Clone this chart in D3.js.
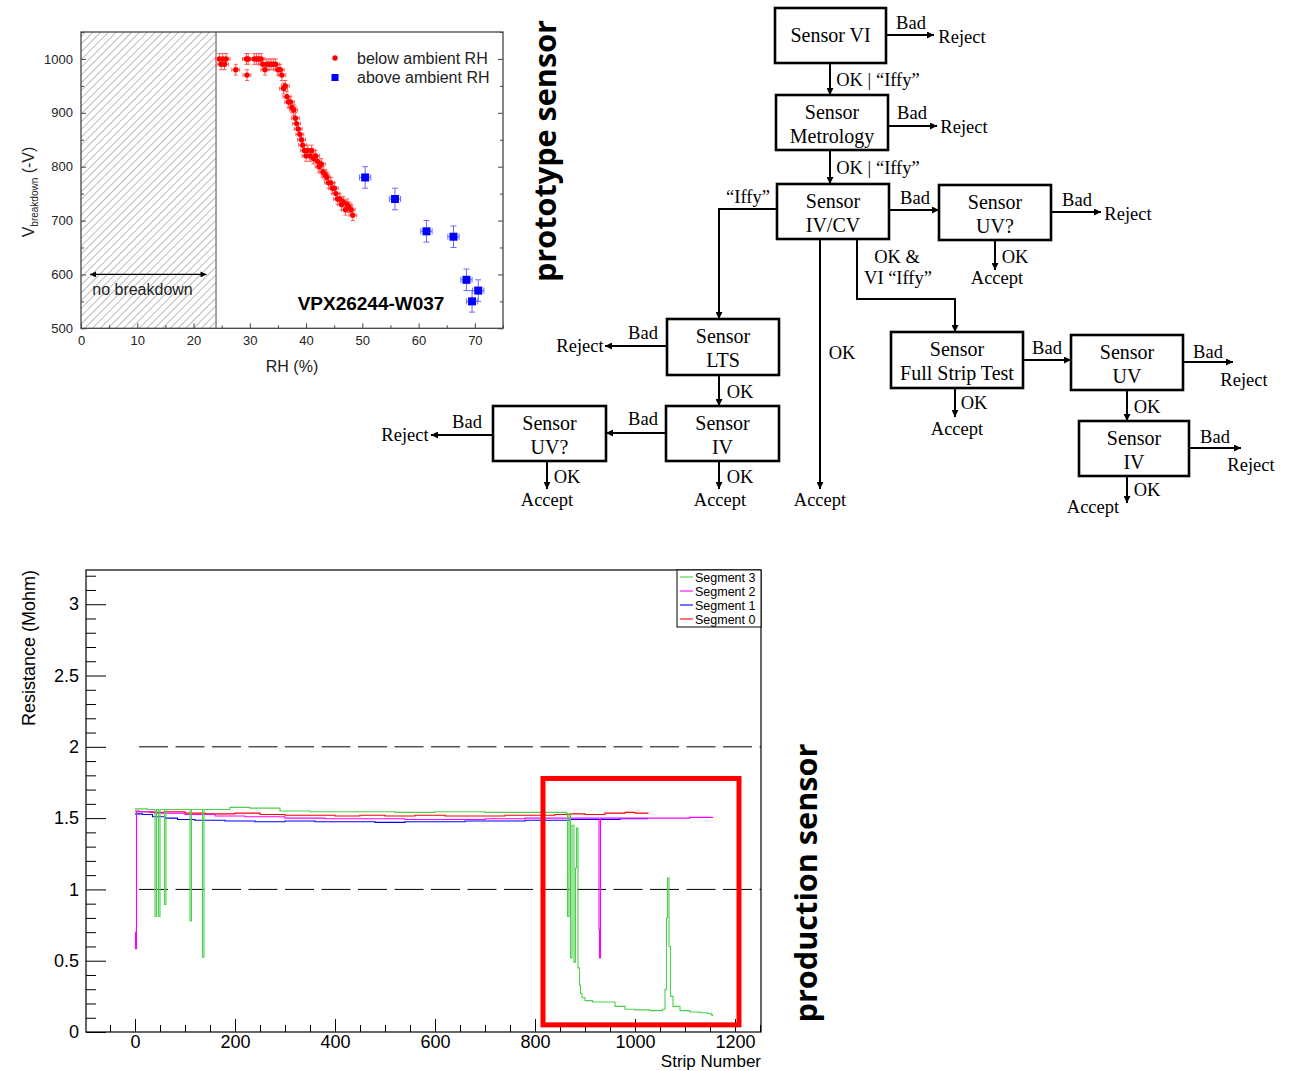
<!DOCTYPE html>
<html><head><meta charset="utf-8">
<script src="https://cdn.jsdelivr.net/npm/d3@7"></script>
<style>body{margin:0;background:#fff}svg{display:block}</style>
</head><body>
<svg id="c" width="1291" height="1071"></svg>
<script>
// ---------------- DATA ----------------
// Top-left: breakdown voltage vs relative humidity
const redRH = [24.6,24.9,25.2,25.5,25.8,27.5,29.4,29.5,29.7,30.8,31.2,31.6,32.0,32.3,32.7,33.0,33.4,33.8,34.2,34.6,35.0,35.4,35.7,36.0,36.3,36.6,36.9,37.2,37.5,37.8,38.1,38.3,38.6,38.9,39.2,39.4,39.7,40.0,40.3,40.7,41.0,41.3,41.7,42.0,42.3,42.7,43.0,43.4,43.7,44.0,44.4,44.7,45.0,45.3,45.6,46.0,46.3,46.6,47.0,47.3,47.6,48.0,48.3];
const redV  = [1000,990,1000,990,1000,980,1000,970,1000,1000,1000,1000,1000,990,980,990,990,990,990,990,980,980,970,945,950,930,920,920,910,905,890,880,870,860,850,840,830,820,830,820,830,815,820,810,800,805,790,785,780,770,770,760,760,750,740,740,730,735,720,730,725,720,710];
const blueRH = [50.5,55.8,61.4,66.2,68.5,69.5,70.6];
const blueV  = [780,740,680,670,590,550,570];
const redErrV = 10, redErrRH = 0.7, blueErrV = 20, blueErrRH = 1.0;
const rhTicks = [0,10,20,30,40,50,60,70];
const rhMinor = [5,15,25,35,45,55,65,75];
const vTicks = [500,600,700,800,900,1000];
const vMinor = [550,650,750,850,950,1050];
const noBreakdownRH = 24;
const sensorName = "VPX26244-W037";
const legend1 = ["below ambient RH","above ambient RH"];

// Bottom: resistance per strip
const seg0Strip = [0,8,30,60,100,140,200,250,300,350,400,450,500,560,620,680,740,800,840,870,900,940,980,1000,1026];
const seg0Val   = [1.55,1.545,1.54,1.545,1.535,1.53,1.535,1.525,1.52,1.52,1.515,1.52,1.515,1.52,1.515,1.515,1.52,1.52,1.525,1.53,1.525,1.535,1.54,1.535,1.54];
const seg1Strip = [0,15,35,60,85,120,180,240,300,360,420,480,540,600,660,720,780,830,870,920,970,1026];
const seg1Val   = [1.53,1.525,1.51,1.5,1.49,1.485,1.48,1.475,1.48,1.475,1.475,1.47,1.475,1.475,1.48,1.48,1.485,1.485,1.49,1.49,1.495,1.495];
const seg2Strip = [0,1,3,40,100,160,220,300,380,460,540,620,700,780,860,928,929,931,1000,1060,1110,1155];
const seg2Val   = [0.70,0.585,1.545,1.535,1.525,1.515,1.51,1.50,1.495,1.495,1.49,1.49,1.495,1.50,1.50,0.72,0.52,1.50,1.50,1.50,1.505,1.50];
const seg3Strip = [0,25,40,43,47,50,59,62,110,113,135,138,190,230,290,350,430,520,600,700,800,862,865,868,871,874,878,881,883,886,889,891,894,900,915,930,960,980,1000,1030,1055,1060,1063,1065,1068,1071,1076,1090,1110,1130,1145,1152,1155];
const seg3Val   = [1.565,1.56,0.81,1.56,0.81,1.56,0.895,1.56,0.78,1.56,0.525,1.56,1.575,1.57,1.55,1.545,1.545,1.54,1.545,1.54,1.54,1.535,0.81,1.53,0.52,1.45,0.49,1.15,1.43,0.45,0.33,0.27,0.24,0.22,0.21,0.21,0.18,0.16,0.155,0.15,0.16,0.3,0.8,1.08,0.6,0.25,0.18,0.15,0.14,0.135,0.13,0.12,0.11];
const segNames = ["Segment 3","Segment 2","Segment 1","Segment 0"];
const stripMajor = [0,200,400,600,800,1000,1200];
const stripMinor = [-50,50,100,150,250,300,350,450,500,550,650,700,750,850,900,950,1050,1100,1150,1250];
const resMajor = [0,0.5,1,1.5,2,2.5,3];
const resMinor = [0.1,0.2,0.3,0.4,0.6,0.7,0.8,0.9,1.1,1.2,1.3,1.4,1.6,1.7,1.8,1.9,2.1,2.2,2.3,2.4,2.6,2.7,2.8,2.9,3.1,3.2];
const refLines = [1,2];
const boxStrip = [816,1208];
const boxRes = [0.05,1.778];

// Flowchart content
const fcBoxes = [
  {id:"vi",   lines:["Sensor VI"]},
  {id:"met",  lines:["Sensor","Metrology"]},
  {id:"ivcv", lines:["Sensor","IV/CV"]},
  {id:"uvq1", lines:["Sensor","UV?"]},
  {id:"lts",  lines:["Sensor","LTS"]},
  {id:"iv1",  lines:["Sensor","IV"]},
  {id:"uvq2", lines:["Sensor","UV?"]},
  {id:"fst",  lines:["Sensor","Full Strip Test"]},
  {id:"uv",   lines:["Sensor","UV"]},
  {id:"iv2",  lines:["Sensor","IV"]}
];

// ---------------- LAYOUT ----------------
const boxLayout = {
  vi:[775,8,886,63], met:[776,95,888,150], ivcv:[777,184,889,239], uvq1:[939,185,1051,240],
  lts:[667,319,779,375], iv1:[666,406,779,461], uvq2:[493,406,606,461],
  fst:[891,332,1023,388], uv:[1071,335,1183,390], iv2:[1079,421,1189,476]
};
const edgeLayout = [
  [[886,35],[934,35]], [[888,126],[937,126]], [[830,63],[830,95]], [[830,150],[830,184]],
  [[889,210],[939,210]], [[1051,212],[1101,212]], [[995,240],[995,270]],
  [[777,209],[719,209],[719,319]], [[820,239],[820,489]],
  [[857,239],[857,299],[955,299],[955,332]],
  [[667,346],[605,346]], [[719,375],[719,406]], [[666,433],[606,433]],
  [[493,435],[431,435]], [[547,461],[547,489]], [[719,461],[719,489]],
  [[1023,360],[1071,360]], [[1183,362],[1233,362]], [[955,388],[955,417]],
  [[1127,390],[1127,421]], [[1189,448],[1241,448]], [[1127,476],[1127,503]]
];
const labelLayout = [
  ["Bad",911,23],["Reject",962,37],["OK | \u201CIffy\u201D",878,80],
  ["Bad",912,113],["Reject",964,127],["OK | \u201CIffy\u201D",878,168],
  ["\u201CIffy\u201D",748,197],["Bad",915,198],["Bad",1077,200],["Reject",1128,214],
  ["OK",1015,257],["Accept",997,278],["OK &",897,257],["VI \u201CIffy\u201D",898,278],
  ["OK",842,353],["Bad",643,333],["Reject",580,346],["OK",740,392],
  ["Bad",643,419],["Bad",467,422],["Reject",405,435],["OK",567,477],["Accept",547,500],
  ["OK",740,477],["Accept",720,500],["Accept",820,500],
  ["Bad",1047,348],["Bad",1208,352],["Reject",1244,380],["OK",974,403],["Accept",957,429],
  ["OK",1147,407],["Bad",1215,437],["Reject",1251,465],["OK",1147,490],["Accept",1093,507]
];

// ---------------- DRAW ----------------
const svg = d3.select("#c");
const defs = svg.append("defs");
const hp = defs.append("pattern").attr("id","hatch").attr("patternUnits","userSpaceOnUse")
  .attr("width",5.5).attr("height",5.5).attr("patternTransform","rotate(45)");
hp.append("line").attr("x1",0).attr("y1",0).attr("x2",0).attr("y2",5.5).attr("stroke","#777").attr("stroke-width",1);
defs.append("marker").attr("id","ah").attr("markerUnits","userSpaceOnUse")
  .attr("markerWidth",8).attr("markerHeight",7).attr("refX",7).attr("refY",3.5).attr("orient","auto")
  .append("path").attr("d","M0,0L7,3.5L0,7z").attr("fill","#000");
defs.append("marker").attr("id","ah2").attr("markerUnits","userSpaceOnUse")
  .attr("markerWidth",7).attr("markerHeight",6).attr("refX",6).attr("refY",3).attr("orient","auto-start-reverse")
  .append("path").attr("d","M0,0L6,3L0,6z").attr("fill","#000");

// ===== Chart 1 =====
const x1 = d3.scaleLinear().domain([0,75]).range([81,503]);
const y1 = d3.scaleLinear().domain([500,1050]).range([328.3,32]);
const g1 = svg.append("g").attr("font-family","'Liberation Sans', Arial, sans-serif");
g1.append("rect").attr("x",x1(0)).attr("y",y1(1050)).attr("width",x1(noBreakdownRH)-x1(0))
  .attr("height",y1(500)-y1(1050)).attr("fill","url(#hatch)");
g1.append("line").attr("x1",x1(noBreakdownRH)).attr("x2",x1(noBreakdownRH)).attr("y1",y1(1050)).attr("y2",y1(500))
  .attr("stroke","#888").attr("stroke-width",1.5);
g1.append("line").attr("x1",x1(1.6)).attr("x2",x1(22.3)).attr("y1",y1(600)).attr("y2",y1(600))
  .attr("stroke","#000").attr("stroke-width",1.2).attr("marker-start","url(#ah2)").attr("marker-end","url(#ah2)");
g1.append("text").attr("x",x1(2)).attr("y",295).attr("font-size",16).attr("fill","#222").text("no breakdown");
g1.append("text").attr("x",x1(38.5)).attr("y",310).attr("font-size",19).attr("font-weight","bold").text(sensorName);

// axes
function ax(gen, tr){ const a = g1.append("g").attr("transform",tr).call(gen); a.select(".domain").remove(); a.selectAll("line").attr("stroke","#444"); a.selectAll("text").attr("font-size",13).attr("fill","#222").attr("font-family","'Liberation Sans', Arial, sans-serif"); return a;}
ax(d3.axisBottom(x1).tickValues(rhTicks).tickSize(-5).tickPadding(7).tickFormat(d3.format("d")), `translate(0,${y1(500)})`);
ax(d3.axisBottom(x1).tickValues(rhMinor).tickSize(-3).tickFormat(""), `translate(0,${y1(500)})`);
ax(d3.axisLeft(y1).tickValues(vTicks).tickSize(-5).tickPadding(8).tickFormat(d3.format("d")), `translate(${x1(0)},0)`);
ax(d3.axisLeft(y1).tickValues(vMinor).tickSize(-3).tickFormat(""), `translate(${x1(0)},0)`);
ax(d3.axisRight(y1).tickValues(vTicks).tickSize(-5).tickFormat(""), `translate(${x1(75)},0)`);
ax(d3.axisRight(y1).tickValues(vMinor).tickSize(-3).tickFormat(""), `translate(${x1(75)},0)`);
g1.append("rect").attr("x",x1(0)).attr("y",y1(1050)).attr("width",x1(75)-x1(0)).attr("height",y1(500)-y1(1050))
  .attr("fill","none").attr("stroke","#444").attr("stroke-width",1.3);

// error bars + points
const redPts = redRH.map((r,i)=>({x:r,y:redV[i]}));
const bluePts = blueRH.map((r,i)=>({x:r,y:blueV[i]}));
function errs(pts, ex, ey, col, cap){
  const g = g1.append("g").attr("stroke",col).attr("stroke-width",1);
  pts.forEach(p=>{
    g.append("line").attr("x1",x1(p.x)).attr("x2",x1(p.x)).attr("y1",y1(p.y-ey)).attr("y2",y1(p.y+ey));
    g.append("line").attr("x1",x1(p.x-ex)).attr("x2",x1(p.x+ex)).attr("y1",y1(p.y)).attr("y2",y1(p.y));
    [p.y-ey,p.y+ey].forEach(v=>g.append("line").attr("x1",x1(p.x)-cap).attr("x2",x1(p.x)+cap).attr("y1",y1(v)).attr("y2",y1(v)));
    [p.x-ex,p.x+ex].forEach(v=>g.append("line").attr("x1",x1(v)).attr("x2",x1(v)).attr("y1",y1(p.y)-cap).attr("y2",y1(p.y)+cap));
  });
}
errs(redPts, redErrRH, redErrV, "#ff5c5c", 2);
errs(bluePts, blueErrRH, blueErrV, "#6b6bff", 3);
g1.append("g").selectAll("circle").data(redPts).join("circle").attr("cx",d=>x1(d.x)).attr("cy",d=>y1(d.y)).attr("r",2.7).attr("fill","#ff0000");
g1.append("g").selectAll("rect").data(bluePts).join("rect").attr("x",d=>x1(d.x)-4).attr("y",d=>y1(d.y)-4).attr("width",8).attr("height",8).attr("fill","#0000ff");
// legend
g1.append("circle").attr("cx",335).attr("cy",58).attr("r",2.7).attr("fill","#ff0000");
g1.append("rect").attr("x",331.5).attr("y",74).attr("width",7).attr("height",7).attr("fill","#0000ff");
g1.append("text").attr("x",357).attr("y",63.5).attr("font-size",16).attr("fill","#222").text(legend1[0]);
g1.append("text").attr("x",357).attr("y",83).attr("font-size",16).attr("fill","#222").text(legend1[1]);
// axis titles
g1.append("text").attr("x",292).attr("y",372).attr("text-anchor","middle").attr("font-size",16).attr("fill","#222").text("RH (%)");
const yt = g1.append("text").attr("transform","translate(34,192) rotate(-90)").attr("text-anchor","middle").attr("font-size",16).attr("fill","#222");
yt.append("tspan").text("V");
yt.append("tspan").attr("font-size",10).attr("dy",4).text("breakdown");
yt.append("tspan").attr("dy",-4).text(" (-V)");

// ===== side titles =====
svg.append("text").attr("transform","translate(556,151) rotate(-90)").attr("text-anchor","middle")
  .attr("font-family","'Open Sans', sans-serif").attr("font-weight","bold").attr("font-size",31)
  .attr("textLength",262).attr("lengthAdjust","spacingAndGlyphs").text("prototype sensor");
svg.append("text").attr("transform","translate(817,883) rotate(-90)").attr("text-anchor","middle")
  .attr("font-family","'Open Sans', sans-serif").attr("font-weight","bold").attr("font-size",31)
  .attr("textLength",279).attr("lengthAdjust","spacingAndGlyphs").text("production sensor");

// ===== Flowchart =====
const fc = svg.append("g").attr("font-family","'Liberation Serif','Times New Roman',serif");
const lineGen = d3.line();
fc.selectAll("path.edge").data(edgeLayout).join("path").attr("class","edge")
  .attr("d",d=>lineGen(d)).attr("fill","none").attr("stroke","#000").attr("stroke-width",2).attr("marker-end","url(#ah)");
fcBoxes.forEach(b=>{
  const [bx0,by0,bx1,by1] = boxLayout[b.id];
  fc.append("rect").attr("x",bx0).attr("y",by0).attr("width",bx1-bx0).attr("height",by1-by0)
    .attr("fill","#fff").attr("stroke","#000").attr("stroke-width",2.6);
  const cx=(bx0+bx1)/2, cy=(by0+by1)/2;
  if (b.lines.length===1){
    fc.append("text").attr("x",cx).attr("y",cy+6.5).attr("text-anchor","middle").attr("font-size",20).text(b.lines[0]);
  } else {
    fc.append("text").attr("x",cx).attr("y",cy-4).attr("text-anchor","middle").attr("font-size",20).text(b.lines[0]);
    fc.append("text").attr("x",cx).attr("y",cy+20).attr("text-anchor","middle").attr("font-size",20).text(b.lines[1]);
  }
});
fc.selectAll("text.lab").data(labelLayout).join("text").attr("class","lab")
  .attr("x",d=>d[1]).attr("y",d=>d[2]+6).attr("text-anchor","middle").attr("font-size",18.5).text(d=>d[0]);

// ===== Chart 2 =====
const xB = d3.scaleLinear().domain([-98,1252]).range([86,761]);
const yB = d3.scaleLinear().domain([0,3.24]).range([1032,570]);
const g2 = svg.append("g").attr("font-family","'Liberation Sans', Arial, sans-serif");
// dashed reference lines
g2.selectAll("line.ref").data(refLines).join("line").attr("class","ref")
  .attr("x1",xB(0)).attr("x2",xB(1252)).attr("y1",d=>yB(d)).attr("y2",d=>yB(d))
  .attr("stroke","#000").attr("stroke-width",1).attr("stroke-dasharray","29,7.5").attr("stroke-dashoffset",-4);
// series
const segs = [
  {s:seg0Strip,v:seg0Val,c:"#ff0000"},
  {s:seg1Strip,v:seg1Val,c:"#0000ff"},
  {s:seg2Strip,v:seg2Val,c:"#ff00ff"},
  {s:seg3Strip,v:seg3Val,c:"#4ccf4c"}
];
const stepLine = d3.line().x(d=>xB(d[0])).y(d=>yB(d[1])).curve(d3.curveStepAfter);
segs.forEach(sg=>{
  g2.append("path").attr("d",stepLine(sg.s.map((s,i)=>[s,sg.v[i]]))).attr("fill","none")
    .attr("stroke",sg.c).attr("stroke-width",1.1);
});
// axes
function ax2(gen,tr){ const a=g2.append("g").attr("transform",tr).call(gen); a.select(".domain").remove(); a.selectAll("line").attr("stroke","#000"); a.selectAll("text").attr("font-size",18).attr("fill","#000").attr("font-family","'Liberation Sans', Arial, sans-serif"); return a;}
ax2(d3.axisBottom(xB).tickValues(stripMajor).tickSize(-13).tickPadding(3).tickFormat(d3.format("d")), `translate(0,${yB(0)})`);
ax2(d3.axisBottom(xB).tickValues(stripMinor).tickSize(-7).tickFormat(""), `translate(0,${yB(0)})`);
ax2(d3.axisLeft(yB).tickValues(resMajor).tickSize(-20).tickPadding(7).tickFormat(d=>String(d)), `translate(${xB(-98)},0)`);
ax2(d3.axisLeft(yB).tickValues(resMinor).tickSize(-10).tickFormat(""), `translate(${xB(-98)},0)`);
g2.append("rect").attr("x",xB(-98)).attr("y",yB(3.24)).attr("width",xB(1252)-xB(-98)).attr("height",yB(0)-yB(3.24))
  .attr("fill","none").attr("stroke","#000").attr("stroke-width",1.2);
g2.append("text").attr("x",xB(1252)).attr("y",1067.2).attr("text-anchor","end").attr("font-size",17).text("Strip Number");
g2.append("text").attr("transform",`translate(35,${yB(3.24)}) rotate(-90)`).attr("text-anchor","end").attr("font-size",18).text("Resistance (Mohm)");
// legend
const lg = g2.append("g");
lg.append("rect").attr("x",677).attr("y",570).attr("width",84).attr("height",57).attr("fill","#fff").attr("stroke","#000").attr("stroke-width",1);
const legCols = ["#4ccf4c","#ff00ff","#0000ff","#ff0000"];
segNames.forEach((n,i)=>{
  const yy = 577 + i*14;
  lg.append("line").attr("x1",680).attr("x2",693).attr("y1",yy).attr("y2",yy).attr("stroke",legCols[i]).attr("stroke-width",1.1);
  lg.append("text").attr("x",695).attr("y",yy+4.5).attr("font-size",12.5).text(n);
});
// highlight box
g2.append("rect").attr("x",xB(boxStrip[0])).attr("y",yB(boxRes[1])).attr("width",xB(boxStrip[1])-xB(boxStrip[0]))
  .attr("height",yB(boxRes[0])-yB(boxRes[1])).attr("fill","none").attr("stroke","#ff0000").attr("stroke-width",5);
</script>
</body></html>
